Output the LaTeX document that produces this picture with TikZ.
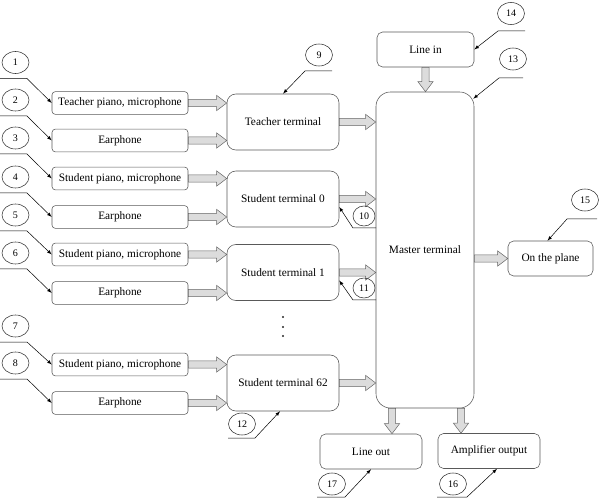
\documentclass[tikz,border=0pt]{standalone}
\usepackage{fontspec}
\setmainfont{Liberation Serif}
\usetikzlibrary{arrows,calc,shapes.geometric}

\begin{document}
\begin{tikzpicture}[x=0.9pt,y=-0.9pt,
  box/.style={draw=black!65,line width=0.5pt,rounded corners=3pt,inner sep=0pt,
    minimum width=122.4pt,minimum height=20.5pt,font=\fontsize{10.2}{12}\selectfont},
  term/.style={box,rounded corners=8pt,minimum width=100.8pt,minimum height=50.4pt},
  outbox/.style={box,rounded corners=5pt,minimum height=31.5pt},
  num/.style={ellipse,draw=black!80,line width=0.5pt,inner sep=0pt,
    minimum width=24.3pt,minimum height=19.8pt,font=\fontsize{9}{10}\selectfont},
  smallnum/.style={num,minimum width=19.8pt,minimum height=18pt},
  leader/.style={line width=0.45pt,-latex},
  fat/.style={draw=black!60,fill=arrowfill,line width=0.45pt,
    to path={let \p1=(\tikztostart),\p2=(\tikztotarget),
      \n1={atan2(\y2-\y1,\x2-\x1)},\n2={veclen(\x2-\x1,\y2-\y1)} in
      ([shift={(\p1)},rotate=\n1]0pt,3.2pt) -- ([shift={(\p1)},rotate=\n1]\n2-9pt,3.2pt)
      -- ([shift={(\p1)},rotate=\n1]\n2-9pt,6.8pt) -- ([shift={(\p1)},rotate=\n1]\n2,0pt)
      -- ([shift={(\p1)},rotate=\n1]\n2-9pt,-6.8pt) -- ([shift={(\p1)},rotate=\n1]\n2-9pt,-3.2pt)
      -- ([shift={(\p1)},rotate=\n1]0pt,-3.2pt) -- cycle}}]
 \definecolor{arrowfill}{HTML}{DCDCDC}
 \useasboundingbox (0,0) rectangle (600,498);
 % inputs
 \node [box] (tp) at (120,103) {Teacher piano, microphone};
 \node [box] (te) at (120,140.5) {Earphone};
 \node [box] (sp0) at (120,178.5) {Student piano, microphone};
 \node [box] (se0) at (120,217) {Earphone};
 \node [box] (sp1) at (120,254.5) {Student piano, microphone};
 \node [box] (se1) at (120,293) {Earphone};
 \node [box] (sp62) at (120,364.5) {Student piano, microphone};
 \node [box] (se62) at (120,403) {Earphone};
 % terminals
 \node [term] (tt) at (283,122) {Teacher terminal};
 \node [term] (st0) at (283,199) {Student terminal 0};
 \node [term] (st1) at (283,272.5) {Student terminal 1};
 \node [term] (st62) at (283,383) {Student terminal 62};
 \fill [black!85] (283,317) circle (1.1pt);
 \fill [black!85] (283,327) circle (1.1pt);
 \fill [black!85] (283,336) circle (1.1pt);
 \node [box,rounded corners=13pt,minimum width=88.2pt,minimum height=284.4pt] (mt) at (425,250) {Master terminal};
 \node [outbox,minimum width=87.3pt] (li) at (425.5,49.5) {Line in};
 \node [outbox,minimum width=76.5pt] (op) at (550.5,258.5) {On the plane};
 \node [outbox,minimum width=91.8pt] (lo) at (371,451.5) {Line out};
 \node [outbox,minimum width=91.8pt] (ao) at (489,451) {Amplifier output};
 % wide arrows
 \draw [fat] (tp.east) to (tp.east -| tt.west);
 \draw [fat] (te.east) to (te.east -| tt.west);
 \draw [fat] (sp0.east) to (sp0.east -| st0.west);
 \draw [fat] (se0.east) to (se0.east -| st0.west);
 \draw [fat] (sp1.east) to (sp1.east -| st1.west);
 \draw [fat] (se1.east) to (se1.east -| st1.west);
 \draw [fat] (sp62.east) to (sp62.east -| st62.west);
 \draw [fat] (se62.east) to (se62.east -| st62.west);
 \draw [fat] (tt.east) to (tt.east -| mt.west);
 \draw [fat] (st0.east) to (st0.east -| mt.west);
 \draw [fat] (st1.east) to (st1.east -| mt.west);
 \draw [fat] (st62.east) to (st62.east -| mt.west);
 \draw [fat] (li.south) to (li.south |- mt.north);
 \draw [fat] (op.west -| mt.east) to (op.west);
 \coordinate (lo1) at ($(mt.south)+(-33,0)$);
 \coordinate (ao1) at ($(mt.south)+(36,0)$);
 \draw [fat] (lo1) to (lo1 |- lo.north);
 \draw [fat] (ao1) to (ao1 |- ao.north);
 % numbered callouts
 \node [num] (c1) at (15.5,62.5) {1};
 \node [num] (c2) at (15.5,100) {2};
 \node [num] (c3) at (15.5,138) {3};
 \node [num] (c4) at (15.5,177) {4};
 \node [num] (c5) at (15.5,215) {5};
 \node [num] (c6) at (15.5,253) {6};
 \node [num] (c7) at (15.5,326) {7};
 \node [num] (c8) at (15.5,363) {8};
 \node [num] (c9) at (319,55) {9};
 \node [smallnum] (c10) at (364,216) {10};
 \node [smallnum] (c11) at (364,288) {11};
 \node [num] (c12) at (242,424) {12};
 \node [num] (c13) at (513,59) {13};
 \node [num] (c14) at (511,13.5) {14};
 \node [num] (c15) at (585,200) {15};
 \node [num] (c16) at (453,484) {16};
 \node [num] (c17) at (332,484) {17};
 \draw [leader] ($(c1)+(-15.5,16)$) -- ++(27,0) -- (tp.west);
 \draw [leader] ($(c2)+(-15.5,16)$) -- ++(27,0) -- (te.west);
 \draw [leader] ($(c3)+(-15.5,16)$) -- ++(27,0) -- (sp0.west);
 \draw [leader] ($(c4)+(-15.5,16)$) -- ++(27,0) -- (se0.west);
 \draw [leader] ($(c5)+(-15.5,16)$) -- ++(27,0) -- (sp1.west);
 \draw [leader] ($(c6)+(-15.5,16)$) -- ++(27,0) -- (se1.west);
 \draw [leader] ($(c7)+(-15.5,16)$) -- ++(27,0) -- (sp62.west);
 \draw [leader] ($(c8)+(-15.5,16)$) -- ++(27,0) -- (se62.west);
 \draw [leader] ($(c9)+(13,16)$) -- ++(-27,0) -- (tt.north);
 \draw [leader] ($(c10)+(12,12)$) -- ++(-23,0) -- ($(st0.east)+(0,8)$);
 \draw [leader] ($(c11)+(12,12)$) -- ++(-23,0) -- ($(st1.east)+(0,8)$);
 \draw [leader] ($(c12)+(-14,14)$) -- ++(27,0) -- ($(st62.south)+(-3,0)$);
 \draw [leader] ($(c13)+(10,19)$) -- ++(-24,0) -- ($(mt.north east)+(-1,7)$);
 \draw [leader] ($(c14)+(14,17.5)$) -- ++(-27,0) -- (li.east);
 \draw [leader] ($(c15)+(12,19)$) -- ++(-30,0) -- ($(op.north)+(-3,0)$);
 \draw [leader] ($(c16)+(-16,13)$) -- ++(30,0) -- ($(ao.south)+(8,0)$);
 \draw [leader] ($(c17)+(-15,13)$) -- ++(28,0) -- (lo.south);
\end{tikzpicture}
\end{document}
